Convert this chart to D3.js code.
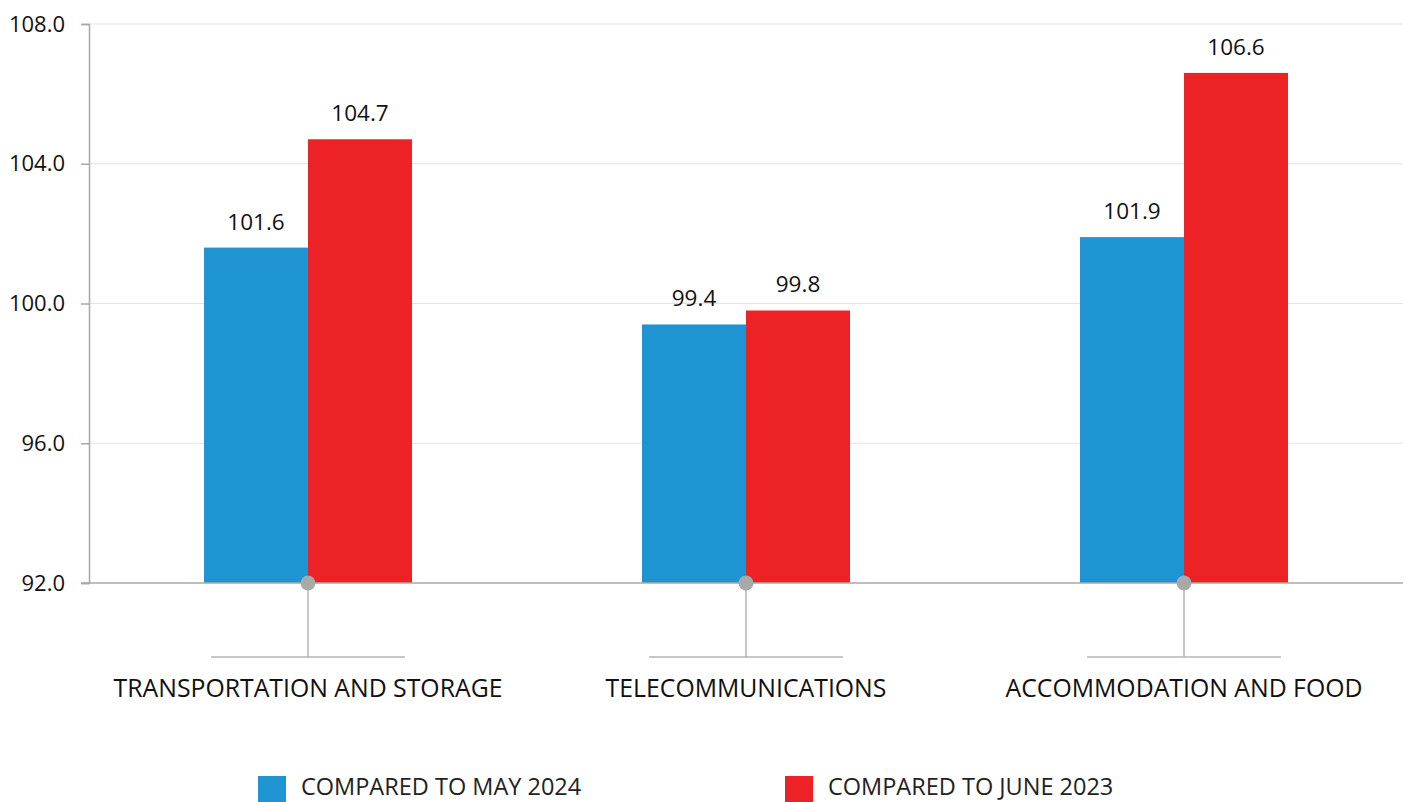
<!DOCTYPE html>
<html>
<head>
<meta charset="utf-8">
<script src="https://cdn.jsdelivr.net/npm/d3@7"></script>
<style>
  body { margin: 0; background: #fff; }
  svg { display: block; font-family: "Open Sans", sans-serif; }
</style>
</head>
<body>
<svg width="1408" height="802"></svg>
<script>
'use strict';
(() => {

var categories = ['TRANSPORTATION AND STORAGE', 'TELECOMMUNICATIONS', 'ACCOMMODATION AND FOOD'];
var seriesNames = ['COMPARED TO MAY 2024', 'COMPARED TO JUNE 2023'];
var mayValues = [101.6, 99.4, 101.9];
var juneValues = [104.7, 99.8, 106.6];
var yTicks = [92, 96, 100, 104, 108];
var colors = ['#1e94d2', '#ed2226'];

var svg = d3.select('svg');
var left = 89, right = 1403, top = 24, bottom = 583;

var x = d3.scaleBand().domain(categories).range([left, right]);
var y = d3.scaleLinear().domain([92, 108]).range([bottom, top]);
var barW = 104;

var rows = categories.map((c, i) => ({cat: c, vals: [mayValues[i], juneValues[i]]}));

// grid
svg.append('g').selectAll('line').data(yTicks.slice(1)).enter().append('line')
  .attr('x1', left).attr('x2', right)
  .attr('y1', d => y(d)).attr('y2', d => y(d))
  .attr('stroke', '#e3e3e3').attr('stroke-width', 1);

// y axis
var yAxis = svg.append('g')
  .attr('transform', `translate(${left},0)`)
  .call(d3.axisLeft(y).tickValues(yTicks).tickFormat(d3.format('.1f')).tickSize(8).tickPadding(16));
yAxis.select('.domain').attr('stroke', '#a8a8a8').attr('stroke-width', 1.5);
yAxis.selectAll('.tick line').attr('stroke', '#a8a8a8').attr('stroke-width', 1.5);
yAxis.selectAll('.tick text').attr('font-size', 22).attr('fill', '#111')
  .attr('font-family', '"Open Sans", sans-serif');

// bars
var g = svg.append('g').selectAll('g').data(rows).enter().append('g')
  .attr('transform', d => `translate(${x(d.cat) + x.bandwidth() / 2},0)`);

g.selectAll('rect').data(d => d.vals).enter().append('rect')
  .attr('x', (d, i) => i === 0 ? -barW : 0)
  .attr('width', barW)
  .attr('y', d => y(d))
  .attr('height', d => y(92) - y(d))
  .attr('fill', (d, i) => colors[i]);

g.selectAll('text.val').data(d => d.vals).enter().append('text')
  .attr('class', 'val')
  .attr('x', (d, i) => i === 0 ? -barW / 2 : barW / 2)
  .attr('y', d => y(d) - 18)
  .attr('text-anchor', 'middle')
  .attr('font-size', 22.5)
  .attr('fill', '#111')
  .text(d => d3.format('.1f')(d));

// baseline
svg.append('line')
  .attr('x1', left - 8).attr('x2', right)
  .attr('y1', y(92)).attr('y2', y(92))
  .attr('stroke', '#a8a8a8').attr('stroke-width', 1.5);

// category markers
g.append('line')
  .attr('x1', 0).attr('x2', 0)
  .attr('y1', y(92)).attr('y2', 657)
  .attr('stroke', '#b4b4b4').attr('stroke-width', 1.5);
g.append('line')
  .attr('x1', -97).attr('x2', 97)
  .attr('y1', 657).attr('y2', 657)
  .attr('stroke', '#b4b4b4').attr('stroke-width', 1.5);
g.append('circle')
  .attr('cx', 0).attr('cy', y(92)).attr('r', 7.5)
  .attr('fill', '#a9a9a9');
g.append('text')
  .attr('y', 697)
  .attr('text-anchor', 'middle')
  .attr('font-size', 24.8)
  .attr('fill', '#111')
  .text(d => d.cat);

// legend
var legendX = [258, 785];
var lg = svg.append('g').selectAll('g').data(seriesNames).enter().append('g')
  .attr('transform', (d, i) => `translate(${legendX[i]},776)`);
lg.append('rect').attr('width', 28).attr('height', 26).attr('fill', (d, i) => colors[i]);
lg.append('text').attr('x', 43).attr('y', 19)
  .attr('font-size', 23.5).attr('fill', '#222')
  .text(d => d);

})();
</script>
</body>
</html>
